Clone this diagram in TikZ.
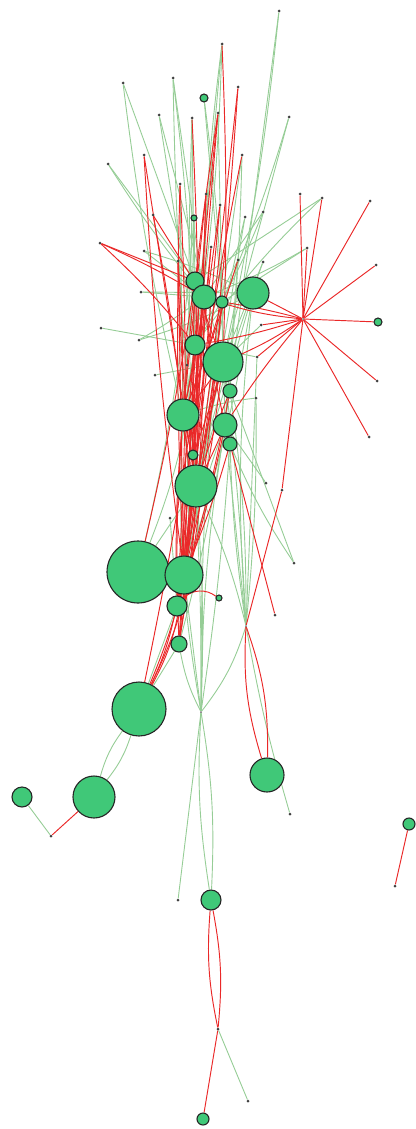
\documentclass[tikz,border=0pt]{standalone}
\usepackage{xcolor}
\usepackage{tikz}
\usetikzlibrary{backgrounds}

\definecolor{nodegreen}{RGB}{64,200,120}
\definecolor{linkgreen}{RGB}{150,205,150}
\definecolor{linkred}{RGB}{234,40,40}

\begin{document}
\begin{tikzpicture}[
    x=1pt, y=-1pt,
    big_node/.style={
        circle,
        draw=black!85,
        fill=nodegreen,
        line width=1.1pt,
        minimum size=#1,
        inner sep=0pt
    },
    leaf_node/.style={
        circle,
        fill=black!75,
        minimum size=3pt,
        inner sep=0pt
    },
    hub_node/.style={
        circle,
        fill=black!60,
        minimum size=2pt,
        inner sep=0pt
    },
    green_edge/.style={
        line width=0.9pt,
        color=linkgreen
    },
    red_edge/.style={
        line width=0.95pt,
        color=linkred
    }
]
    \useasboundingbox (0,0) rectangle (415,1129);

    % Weighted nodes
    \node (a1) [big_node=18pt] at (195,281) {};
    \node (a2) [big_node=24pt] at (204,297) {};
    \node (a3) [big_node=32pt] at (253,293) {};
    \node (a4) [big_node=12pt] at (222,302) {};
    \node (a5) [big_node=20pt] at (195,345) {};
    \node (a6) [big_node=40pt] at (223,362) {};
    \node (a7) [big_node=14pt] at (230,391) {};
    \node (a8) [big_node=32pt] at (183,415) {};
    \node (a9) [big_node=24pt] at (225,425) {};
    \node (a10) [big_node=14pt] at (230,444) {};
    \node (a11) [big_node=10pt] at (193,455) {};
    \node (a12) [big_node=42pt] at (196,486) {};
    \node (a13) [big_node=62pt] at (138,572) {};
    \node (a14) [big_node=38pt] at (184,575) {};
    \node (a15) [big_node=20pt] at (177,606) {};
    \node (a16) [big_node=16pt] at (179,644) {};
    \node (a17) [big_node=54pt] at (139,709) {};
    \node (a18) [big_node=42pt] at (94,797) {};
    \node (a19) [big_node=20pt] at (22,797) {};
    \node (a20) [big_node=34pt] at (267,775) {};
    \node (a21) [big_node=20pt] at (211,900) {};
    \node (a22) [big_node=12pt] at (203,1119) {};
    \node (a23) [big_node=12pt] at (409,824) {};
    \node (g1) [big_node=8pt] at (204,98) {};
    \node (g2) [big_node=6pt] at (194,218) {};
    \node (g3) [big_node=8pt] at (378,322) {};
    \node (g4) [big_node=6pt] at (219,598) {};

    % Junctions
    \node (h1) [hub_node] at (303,319) {};
    \node (h2) [hub_node] at (246,626) {};
    \node (h3) [hub_node] at (201,712) {};

    % Leaves
    \foreach \n/\x/\y in {t1/279/11, t2/222/44, t3/123/83, t4/173/78, t5/238/87,
        t6/159/115, t7/192/118, t8/218/113, t9/289/117, t10/144/155,
        t11/108/164, t12/242/155, t13/180/184, t14/206/194, t15/220/205,
        t16/153/215, t17/245/217, t18/263/212, t19/300/194, t20/322/198,
        t21/370/201, t22/100/243, t23/144/251, t24/178/261, t25/238/260,
        t26/263/262, t27/307/248, t28/376/265, t29/141/292, t30/211/247,
        t31/101/328, t32/139/340, t33/155/375, t34/256/398, t35/261/325,
        t36/257/357, t37/266/483, t38/282/490, t39/170/518, t40/187/365,
        t41/294/563, t42/275/615, t43/290/814, t44/178/900, t45/218/1029,
        t46/248/1101, t47/395/886, t48/51/836, t49/377/381, t50/369/437}
        \node (\n) [leaf_node] at (\x,\y) {};

    \begin{scope}[on background layer]
    % Green links
    \foreach \u/\v/\b in {t1/a9/0, t1/a6/3, t2/a5/0, t2/a2/-3, t2/a8/4,
        t3/a1/0, t3/a8/-3, t4/a2/0, t4/a5/2, t4/a12/-2, g1/a4/0, g1/a6/3,
        t6/a6/0, t6/a5/0, t7/a5/0, t7/a8/2, t7/a11/-2, t8/a9/0, t9/a6/0,
        t9/a4/3, t11/a1/0, t11/a2/-3, t12/a12/0, t12/a9/2, t13/a8/0,
        t17/a12/-3, t17/a14/0, t18/a2/0, t18/a5/5, t20/a1/0, t20/a5/-5,
        t25/a5/0, t26/a6/0, t27/a2/4, t27/a4/0, g2/a1/0, g2/a8/2, t23/a2/0,
        t29/a2/0, t31/a5/0, t32/a2/-3, t33/a6/0, t35/a6/0, t36/a5/0,
        t34/a8/-5, t37/a9/0, t40/a12/0, t39/a15/0, a3/a12/0, a3/a14/4,
        a3/t29/0, a3/t32/5, a3/t23/-4, t41/a10/5, a9/h2/0, a12/h2/5,
        a10/h2/-3, a6/h2/2, a7/h2/4, a9/h3/-4, a12/h3/3, a14/h3/0,
        a8/h3/-6, a11/h3/2, a16/h3/-8, h2/h3/10, h2/t43/-3, h3/a21/6,
        h3/a21/-6, h3/t44/0, a15/a17/0, a16/a17/0, a17/a18/10, a17/a18/-10,
        a19/t48/0, t45/t46/0, a13/a12/0, a8/a14/6, a9/a14/-4, a5/a13/8,
        g2/a13/4, a8/a15/8, a3/h2/-5, t36/h2/0, t34/h2/3, a7/t41/0,
        a6/a16/-4, a9/a16/3, t25/a9/0, t26/a12/-3, a4/h3/-3, a10/h3/2}
        \draw [green_edge] (\u) to[bend left=\b] (\v);

    % Red links
    \foreach \u/\v/\b in {t5/a14/0, t5/a12/2, t8/a15/0, t8/a14/-2,
        t10/a12/0, t10/a14/-2, t14/a8/0, t14/a15/2, t15/a16/0, t15/a11/-2,
        t16/a2/0, t16/a8/2, t22/a1/0, t22/a2/3, t24/a14/0, t24/a12/-3,
        t30/a14/0, t30/a17/3, t25/a8/2, t12/a11/-2, t13/a15/3, t2/a6/2,
        t19/h1/0, t20/h1/0, t21/h1/0, t28/h1/0, t27/h1/0, h1/g3/0,
        h1/t38/0, h1/t49/0, h1/t50/0, h1/a3/0, h1/a6/5, h1/a4/-3, h1/a5/4,
        h1/a9/-3, h1/t35/0, h1/t36/0, h1/a2/6, t38/h2/0, t42/a10/0,
        h2/a20/10, h2/a20/-10, a14/a17/10, a15/a17/6, a12/a17/12,
        a8/a17/15, a15/g4/40, a1/a13/2, a2/a14/-2, a5/a12/3, a6/a15/-3,
        a4/a16/2, a1/a12/-2, a2/a16/4, a5/a14/-3, a6/a11/2, a8/a16/-3,
        a7/a15/3, a1/a5/3, a1/a6/-2, a2/a8/2, a2/a12/-3, a4/a8/3, a4/a12/2,
        a5/a8/2, a5/a11/-3, a6/a8/2, a6/a12/-2, a6/a14/3, a8/a12/2,
        a8/a15/-3, a9/a12/2, a9/a15/3, a11/a14/2, a12/a16/-3, a12/a15/3,
        a2/a9/-3, a1/a11/3, a4/a14/2, a7/a12/-2, a10/a14/3, t7/a12/2,
        t13/a14/-2, t14/a12/0, t8/a8/-2, t24/a8/2, t22/a5/4, a18/t48/0,
        a21/t45/8, a21/t45/-8, t45/a22/0, a23/t47/0}
        \draw [red_edge] (\u) to[bend left=\b] (\v);
    \end{scope}

\end{tikzpicture}
\end{document}
